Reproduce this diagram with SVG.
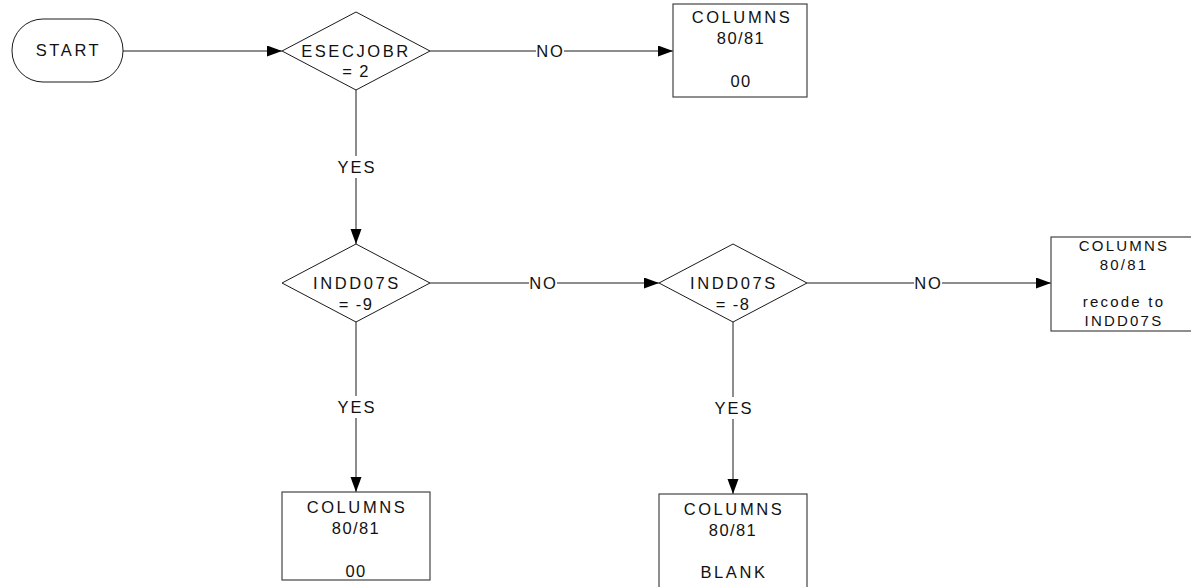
<svg xmlns="http://www.w3.org/2000/svg" width="1191" height="587" viewBox="0 0 1191 587">
<style>
  .shape { fill: #fff; stroke: #1a1a1a; stroke-width: 1; }
  .box { fill: #fff; stroke: #444; stroke-width: 1.2; }
  .conn { fill: none; stroke: #1a1a1a; stroke-width: 1; }
  text { font-family: "Liberation Sans", Arial, sans-serif; font-size: 16.5px; fill: #111; text-anchor: middle; letter-spacing: 2.6px; }
  .num { letter-spacing: 1.4px; }
  .sm { font-size: 15px; letter-spacing: 2.2px; }
  .lbl { letter-spacing: 2px; }
</style>
<defs>
  <marker id="arr" markerWidth="16" markerHeight="12" refX="15" refY="5.5" orient="auto" markerUnits="userSpaceOnUse">
    <path d="M0,0 L15,5.5 L0,11 z" fill="#000"/>
  </marker>
</defs>

<g id="connectors">
  <line class="conn" x1="123" y1="51" x2="282" y2="51" marker-end="url(#arr)"/>
  <line class="conn" x1="430" y1="51" x2="673" y2="51" marker-end="url(#arr)"/>
  <line class="conn" x1="356" y1="90" x2="356" y2="244" marker-end="url(#arr)"/>
  <line class="conn" x1="430" y1="283" x2="659" y2="283" marker-end="url(#arr)"/>
  <line class="conn" x1="807" y1="283" x2="1051" y2="283" marker-end="url(#arr)"/>
  <line class="conn" x1="356" y1="322" x2="356" y2="492" marker-end="url(#arr)"/>
  <line class="conn" x1="733" y1="322" x2="733" y2="494" marker-end="url(#arr)"/>
  <g id="connector-labels">
    <rect x="536" y="42" width="28" height="18" fill="#fff"/>
    <text class="lbl" x="550.5" y="57">NO</text>
    <rect x="338" y="156" width="38" height="22" fill="#fff"/>
    <text class="lbl" x="357" y="173">YES</text>
    <rect x="529" y="274" width="28" height="18" fill="#fff"/>
    <text class="lbl" x="543.5" y="289">NO</text>
    <rect x="914" y="274" width="28" height="18" fill="#fff"/>
    <text class="lbl" x="928.5" y="289">NO</text>
    <rect x="338" y="396" width="38" height="22" fill="#fff"/>
    <text class="lbl" x="357" y="413">YES</text>
    <rect x="715" y="397" width="38" height="22" fill="#fff"/>
    <text class="lbl" x="734" y="414">YES</text>
  </g>
</g>

<g id="start">
  <rect class="shape" x="12" y="19" width="111" height="63" rx="31" ry="31"/>
  <text x="68.5" y="56">START</text>
</g>

<g id="esecjobr">
  <polygon class="shape" points="282,51 356,12 430,51 356,90"/>
  <text x="356" y="57">ESECJOBR</text>
  <text class="num" x="356" y="77">= 2</text>
</g>

<g id="box-top">
  <rect class="box" x="673" y="4" width="134" height="93"/>
  <text x="742" y="23">COLUMNS</text>
  <text class="num" x="741" y="44">80/81</text>
  <text class="num" x="741" y="87">00</text>
</g>

<g id="indd07s-9">
  <polygon class="shape" points="282,283 356,244 430,283 356,322"/>
  <text x="357" y="289">INDD07S</text>
  <text class="num" x="356" y="310">= -9</text>
</g>

<g id="indd07s-8">
  <polygon class="shape" points="659,283 733,244 807,283 733,322"/>
  <text x="734" y="289">INDD07S</text>
  <text class="num" x="733" y="310">= -8</text>
</g>

<g id="box-recode">
  <rect class="box" x="1051" y="237" width="148" height="94"/>
  <text class="sm" x="1124" y="251">COLUMNS</text>
  <text class="sm num" x="1124" y="270">80/81</text>
  <text class="sm" x="1124" y="307">recode to</text>
  <text class="sm" x="1124" y="326">INDD07S</text>
</g>

<g id="box-bottom-left">
  <rect class="box" x="282" y="492" width="148" height="88"/>
  <text x="357" y="513">COLUMNS</text>
  <text class="num" x="356" y="534">80/81</text>
  <text class="num" x="356" y="577">00</text>
</g>

<g id="box-bottom-mid">
  <rect class="box" x="659" y="494" width="148" height="100"/>
  <text x="734" y="515">COLUMNS</text>
  <text class="num" x="733" y="536">80/81</text>
  <text x="734" y="578">BLANK</text>
</g>
</svg>
